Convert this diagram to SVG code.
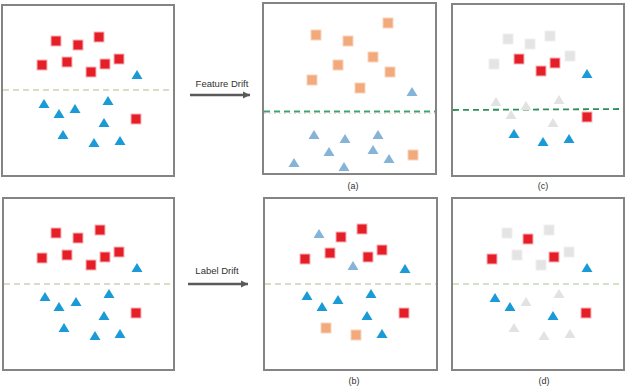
<svg xmlns="http://www.w3.org/2000/svg" xmlns:xlink="http://www.w3.org/1999/xlink" width="626" height="392" viewBox="0 0 626 392">
<style>
.frame{fill:#fff;stroke:#848484;stroke-width:2}
.dash1{stroke:#d2d0b4;stroke-width:1.3;stroke-dasharray:6 4;fill:none}
.dashg{stroke:#3aa66e;stroke-width:1.8;stroke-dasharray:6 4;fill:none}
.dashl{stroke:#c4dcb0;stroke-width:1.4;stroke-dasharray:6 4;fill:none}
.r{fill:#e61e28;stroke:#f8b4b8;stroke-width:1}
.o{fill:#f2aa7c;stroke:#f8d4bc;stroke-width:1}
.gs{fill:#e4e4e4;stroke:#efefef;stroke-width:1}
.b{fill:#1a9ad6}
.lb{fill:#84b4d8}
.gt{fill:#e2e2e2}
.lbl{font-family:"Liberation Sans",Arial,sans-serif;font-size:9px;fill:#333}
.arr{stroke:#5a5a5a;stroke-width:2.4;fill:none}
</style>
<defs>
<rect id="sq" x="-5" y="-5" width="10" height="10"/>
<path id="tri" d="M0,-5 L5.5,4 L-5.5,4 Z"/>
<marker id="ah" markerWidth="8" markerHeight="8" refX="7" refY="4" orient="auto" markerUnits="userSpaceOnUse">
<path d="M0,0.5 L7,4 L0,7.5 Z" fill="#5a5a5a"/>
</marker>
</defs>

<g id="panel-orig-top">
<rect class="frame" x="2" y="5" width="172" height="171"/>
<line class="dash1" x1="3" y1="90" x2="173" y2="90"/>
<use href="#sq" class="r" x="56" y="41"/>
<use href="#sq" class="r" x="78" y="45"/>
<use href="#sq" class="r" x="99" y="37"/>
<use href="#sq" class="r" x="42" y="65"/>
<use href="#sq" class="r" x="67" y="62"/>
<use href="#sq" class="r" x="91" y="72"/>
<use href="#sq" class="r" x="105" y="64"/>
<use href="#sq" class="r" x="119" y="59"/>
<use href="#sq" class="r" x="136" y="119"/>
<use href="#tri" class="b" x="137" y="75"/>
<use href="#tri" class="b" x="44" y="104"/>
<use href="#tri" class="b" x="59" y="114"/>
<use href="#tri" class="b" x="75" y="109"/>
<use href="#tri" class="b" x="108" y="101"/>
<use href="#tri" class="b" x="104" y="123"/>
<use href="#tri" class="b" x="63" y="135"/>
<use href="#tri" class="b" x="94" y="143"/>
<use href="#tri" class="b" x="120" y="141"/>
</g>

<g id="panel-a">
<rect class="frame" x="263" y="3" width="173" height="171"/>
<line x1="264" y1="113.5" x2="435" y2="113.5" stroke="#f4c8c8" stroke-width="0.8" stroke-dasharray="2 3"/>
<line class="dashg" x1="264" y1="111.5" x2="435" y2="111.5"/>
<use href="#sq" class="o" x="388" y="23"/>
<use href="#sq" class="o" x="316" y="35"/>
<use href="#sq" class="o" x="348" y="41"/>
<use href="#sq" class="o" x="373" y="57"/>
<use href="#sq" class="o" x="338" y="65"/>
<use href="#sq" class="o" x="390" y="72"/>
<use href="#sq" class="o" x="312" y="80"/>
<use href="#sq" class="o" x="360" y="88"/>
<use href="#sq" class="o" x="413" y="155"/>
<use href="#tri" class="lb" x="412" y="92"/>
<use href="#tri" class="lb" x="314" y="135"/>
<use href="#tri" class="lb" x="345" y="139"/>
<use href="#tri" class="lb" x="378" y="135"/>
<use href="#tri" class="lb" x="329" y="152"/>
<use href="#tri" class="lb" x="373" y="150"/>
<use href="#tri" class="lb" x="389" y="159"/>
<use href="#tri" class="lb" x="294" y="163"/>
<use href="#tri" class="lb" x="344" y="167"/>
<text class="lbl" x="353" y="189" text-anchor="middle">(a)</text>
</g>

<g id="panel-c">
<rect class="frame" x="452" y="4" width="172" height="172"/>
<line x1="453" y1="110" x2="623" y2="109" stroke="#2e8e58" stroke-width="1.8" stroke-dasharray="6 4"/>
<use href="#sq" class="gs" x="508" y="39"/>
<use href="#sq" class="gs" x="530" y="44"/>
<use href="#sq" class="gs" x="550" y="36"/>
<use href="#sq" class="gs" x="494" y="64"/>
<use href="#sq" class="gs" x="570" y="56"/>
<use href="#sq" class="r" x="519" y="59"/>
<use href="#sq" class="r" x="541" y="71"/>
<use href="#sq" class="r" x="555" y="63"/>
<use href="#sq" class="r" x="587" y="117"/>
<use href="#tri" class="gt" x="496" y="102"/>
<use href="#tri" class="gt" x="526" y="106"/>
<use href="#tri" class="gt" x="559" y="100"/>
<use href="#tri" class="gt" x="511" y="115"/>
<use href="#tri" class="gt" x="553" y="123"/>
<use href="#tri" class="b" x="587" y="74"/>
<use href="#tri" class="b" x="514" y="134"/>
<use href="#tri" class="b" x="543" y="142"/>
<use href="#tri" class="b" x="569" y="139"/>
<text class="lbl" x="543" y="189" text-anchor="middle">(c)</text>
</g>

<g id="panel-orig-bottom">
<rect class="frame" x="3" y="198" width="171" height="172"/>
<line class="dash1" x1="4" y1="284" x2="173" y2="284"/>
<use href="#sq" class="r" x="56" y="233"/>
<use href="#sq" class="r" x="78" y="238"/>
<use href="#sq" class="r" x="100" y="230"/>
<use href="#sq" class="r" x="42" y="258"/>
<use href="#sq" class="r" x="67" y="255"/>
<use href="#sq" class="r" x="91" y="265"/>
<use href="#sq" class="r" x="105" y="257"/>
<use href="#sq" class="r" x="119" y="252"/>
<use href="#sq" class="r" x="136" y="313"/>
<use href="#tri" class="b" x="137" y="268"/>
<use href="#tri" class="b" x="45" y="297"/>
<use href="#tri" class="b" x="59" y="307"/>
<use href="#tri" class="b" x="76" y="302"/>
<use href="#tri" class="b" x="109" y="294"/>
<use href="#tri" class="b" x="104" y="316"/>
<use href="#tri" class="b" x="64" y="328"/>
<use href="#tri" class="b" x="95" y="336"/>
<use href="#tri" class="b" x="120" y="334"/>
</g>

<g id="panel-b">
<rect class="frame" x="264" y="198" width="173" height="172"/>
<line class="dash1" x1="265" y1="284" x2="436" y2="284"/>
<use href="#sq" class="r" x="362" y="229"/>
<use href="#sq" class="r" x="341" y="237"/>
<use href="#sq" class="r" x="330" y="253"/>
<use href="#sq" class="r" x="305" y="259"/>
<use href="#sq" class="r" x="368" y="257"/>
<use href="#sq" class="r" x="382" y="250"/>
<use href="#sq" class="r" x="404" y="313"/>
<use href="#sq" class="o" x="326" y="328"/>
<use href="#sq" class="o" x="356" y="335"/>
<use href="#tri" class="lb" x="319" y="234"/>
<use href="#tri" class="lb" x="353" y="266"/>
<use href="#tri" class="b" x="405" y="269"/>
<use href="#tri" class="b" x="307" y="296"/>
<use href="#tri" class="b" x="322" y="307"/>
<use href="#tri" class="b" x="338" y="300"/>
<use href="#tri" class="b" x="371" y="294"/>
<use href="#tri" class="b" x="367" y="316"/>
<use href="#tri" class="b" x="382" y="334"/>
<text class="lbl" x="354" y="384" text-anchor="middle">(b)</text>
</g>

<g id="panel-d">
<rect class="frame" x="452" y="198" width="172" height="172"/>
<line class="dashl" x1="453" y1="284" x2="623" y2="284"/>
<use href="#sq" class="gs" x="507" y="233"/>
<use href="#sq" class="gs" x="549" y="230"/>
<use href="#sq" class="gs" x="517" y="255"/>
<use href="#sq" class="gs" x="569" y="252"/>
<use href="#sq" class="gs" x="541" y="265"/>
<use href="#sq" class="r" x="528" y="239"/>
<use href="#sq" class="r" x="492" y="259"/>
<use href="#sq" class="r" x="554" y="257"/>
<use href="#sq" class="r" x="586" y="313"/>
<use href="#tri" class="gt" x="526" y="302"/>
<use href="#tri" class="gt" x="559" y="294"/>
<use href="#tri" class="gt" x="514" y="328"/>
<use href="#tri" class="gt" x="544" y="336"/>
<use href="#tri" class="gt" x="570" y="334"/>
<use href="#tri" class="b" x="587" y="268"/>
<use href="#tri" class="b" x="495" y="298"/>
<use href="#tri" class="b" x="510" y="307"/>
<use href="#tri" class="b" x="553" y="316"/>
<text class="lbl" x="544" y="384" text-anchor="middle">(d)</text>
</g>

<g id="connectors">
<line class="arr" x1="190" y1="95" x2="250" y2="95" marker-end="url(#ah)"/>
<text class="lbl" x="222" y="87" text-anchor="middle" style="font-size:9.5px">Feature Drift</text>
<line class="arr" x1="188" y1="284" x2="248" y2="284" marker-end="url(#ah)"/>
<text class="lbl" x="217" y="274" text-anchor="middle" style="font-size:9.5px">Label Drift</text>
</g>
</svg>
